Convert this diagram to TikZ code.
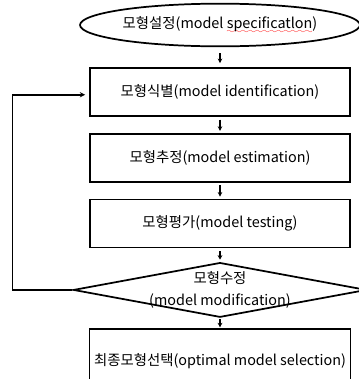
\documentclass[tikz,border=0pt]{standalone}
\usepackage{fontspec}
\setmainfont{Noto Sans CJK KR}
\usepackage{tikz}
\usetikzlibrary{shapes.geometric}
\usetikzlibrary{positioning, arrows.meta}
\font\wavefont=lasy6
\newsavebox\wavebox
\newcommand\redwave[1]{\sbox\wavebox{#1}\rlap{\color{red}\lower3.5pt\hbox to \wd\wavebox{\wavefont\xleaders\hbox{\char58}\hfill}}\usebox\wavebox}

\begin{document}
\begin{tikzpicture}[x=0.75pt, y=-0.75pt,
  stepbox/.style={rectangle, draw=black, line width=1.3pt, minimum width=195pt, minimum height=36pt, align=center, font=\fontsize{10.8}{13}\selectfont},
  startnode/.style={ellipse, draw=black, line width=1.3pt, minimum width=210pt, minimum height=32pt, inner sep=0pt, font=\fontsize{10.8}{13}\selectfont},
  decision/.style={diamond, draw=black, line width=1.3pt, minimum width=220pt, minimum height=41pt, inner sep=0pt},
  flow/.style={line width=0.9pt, -{Stealth[length=3.5pt, width=3.5pt]}, shorten <=2pt, shorten >=1.5pt},
  node distance=16pt]

\useasboundingbox (0,0) rectangle (358,379);

% Start
\node[startnode] (spec) at (220,25) {모형설정(model \redwave{specificatlon})};

% Steps
\node[stepbox, below=15pt of spec] (ident) {모형식별(model identification)};
\node[stepbox, below=12pt of ident] (estim) {모형추정(model estimation)};
\node[stepbox, below=12pt of estim] (test) {모형평가(model testing)};

% Decision
\node[decision, below=10pt of test,
  label={[align=center, font=\fontsize{10.8}{16.5}\selectfont]center:모형수정\\(model modification)}] (modif) {};

% Final
\node[stepbox, below=7.5pt of modif, minimum height=48pt] (select) {최종모형선택(optimal model selection)};

% Flow arrows
\draw[flow, shorten <=4.5pt, shorten >=3pt] (spec) -- (ident);
\draw[flow] (ident) -- (estim);
\draw[flow] (estim) -- (test);
\draw[flow] (test) -- (modif);
\draw[flow, shorten <=1pt, shorten >=0.5pt] (modif) -- (select);

% Feedback loop
\draw[line width=1.3pt, -{Stealth[length=4pt, width=4pt]}, shorten >=3pt] (modif.west) -- ++(-60,0) |- ([yshift=-2pt]ident.west);

\end{tikzpicture}
\end{document}
